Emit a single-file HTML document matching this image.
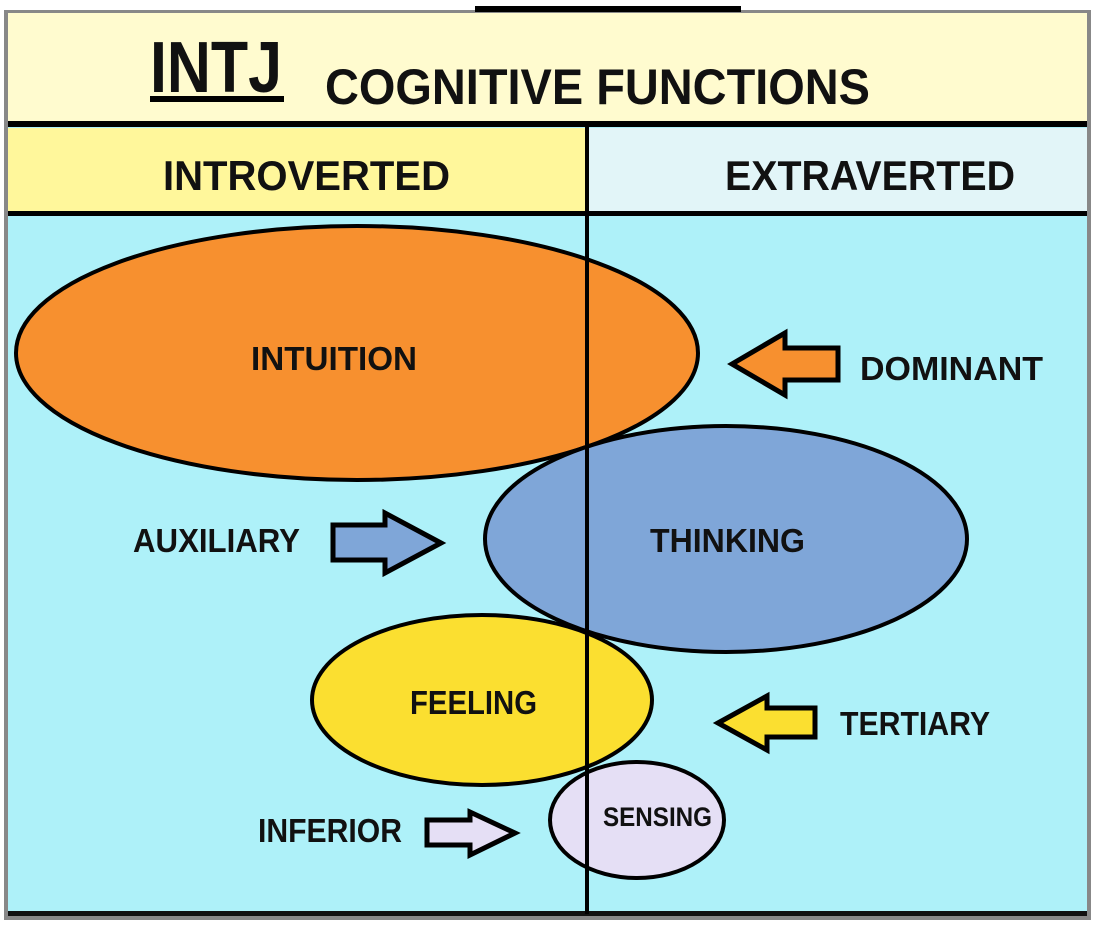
<!DOCTYPE html>
<html><head><meta charset="utf-8"><style>
html,body{margin:0;padding:0;background:#fff;}
svg{display:block}
text{font-family:"Liberation Sans",sans-serif;font-weight:bold;fill:#111;}
</style></head><body>
<svg width="1094" height="930" viewBox="0 0 1094 930" xmlns="http://www.w3.org/2000/svg">
<rect x="4" y="10" width="1087" height="910" fill="#888"/>
<rect x="8" y="13" width="1079" height="903" fill="#aef1f9"/>
<rect x="8" y="13" width="1079" height="108" fill="#fffbcf"/>
<rect x="8" y="128" width="578" height="84" fill="#fff79b"/>
<rect x="589" y="128" width="498" height="84" fill="#e2f5f8"/>
<rect x="475" y="6" width="266" height="6" fill="#000"/>
<rect x="8" y="121" width="1079" height="6" fill="#000"/>
<rect x="8" y="211" width="1079" height="5" fill="#000"/>
<rect x="8" y="911" width="1079" height="5" fill="#111"/>
<text x="150" y="92" font-size="72" textLength="132" lengthAdjust="spacingAndGlyphs">INTJ</text>
<rect x="150" y="96" width="134" height="6" fill="#000"/>
<text x="325" y="104" font-size="50" textLength="545" lengthAdjust="spacingAndGlyphs">COGNITIVE FUNCTIONS</text>
<text x="163" y="190" font-size="42" textLength="287" lengthAdjust="spacingAndGlyphs">INTROVERTED</text>
<text x="725" y="190" font-size="42" textLength="290" lengthAdjust="spacingAndGlyphs">EXTRAVERTED</text>
<g stroke="#000" stroke-width="4">
<ellipse cx="357" cy="353" rx="341" ry="127" fill="#f7902f"/>
<ellipse cx="726" cy="539" rx="241" ry="113" fill="#7fa6d8"/>
<ellipse cx="482" cy="700" rx="170" ry="85" fill="#fbdf30"/>
<ellipse cx="637" cy="820" rx="87" ry="58" fill="#e5dff5"/>
<path d="M732 364 L785 333 L785 348 L838 348 L838 380 L785 380 L785 395 Z" fill="#f7902f" stroke-width="5"/>
<path d="M441 543 L385 513 L385 525 L333 525 L333 560 L385 560 L385 573 Z" fill="#7fa6d8" stroke-width="5"/>
<path d="M718 723 L767 696 L767 708 L815 708 L815 737 L767 737 L767 750 Z" fill="#fbdf30" stroke-width="5"/>
<path d="M515 833 L470 812 L470 820 L427 820 L427 845 L470 845 L470 855 Z" fill="#e5dff5" stroke-width="5"/>
</g>
<rect x="585" y="124" width="4" height="790" fill="#000"/>
<text x="251" y="370" font-size="33" textLength="166" lengthAdjust="spacingAndGlyphs">INTUITION</text>
<text x="860" y="380" font-size="33" textLength="183" lengthAdjust="spacingAndGlyphs">DOMINANT</text>
<text x="133" y="552" font-size="33" textLength="167" lengthAdjust="spacingAndGlyphs">AUXILIARY</text>
<text x="650" y="552" font-size="33" textLength="155" lengthAdjust="spacingAndGlyphs">THINKING</text>
<text x="410" y="714" font-size="33" textLength="127" lengthAdjust="spacingAndGlyphs">FEELING</text>
<text x="840" y="735" font-size="33" textLength="150" lengthAdjust="spacingAndGlyphs">TERTIARY</text>
<text x="258" y="842" font-size="33" textLength="144" lengthAdjust="spacingAndGlyphs">INFERIOR</text>
<text x="603" y="826" font-size="27" textLength="109" lengthAdjust="spacingAndGlyphs">SENSING</text>
</svg>
</body></html>
